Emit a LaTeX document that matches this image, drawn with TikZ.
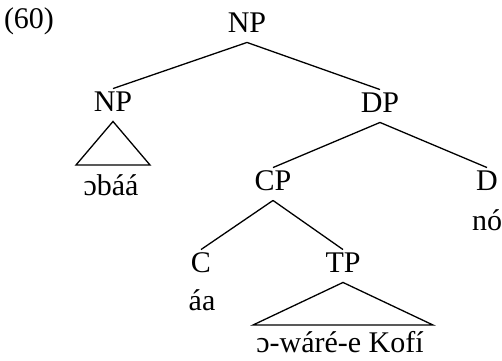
\documentclass[tikz,border=0pt]{standalone}
\usepackage{fontspec}
\setmainfont{Liberation Serif}

\begin{document}
\begin{tikzpicture}[
    x=0.5pt,y=-0.5pt,line width=0.65pt,
    cat/.style={inner xsep=2pt,inner ysep=4.6pt,text height=0.66em,text depth=0pt,font=\fontsize{15}{18}\selectfont},
    word/.style={anchor=base,inner sep=0pt,font=\fontsize{15}{18}\selectfont}
    ]
    \useasboundingbox (0,0) rectangle (502,360);
    \node[word] (ex) at (29,28) {(60)};
    \node[cat] (np) at (247,26) {NP};
    \node[cat] (npl) at (113,105) {NP};
    \node[cat] (dp) at (380,106) {DP};
    \node[cat] (cp) at (273,184) {CP};
    \node[cat] (d) at (487,184) {D};
    \node[cat] (c) at (201,266) {C};
    \node[cat] (tp) at (343,266) {TP};
    \node[word] (obaa) at (111,195) {ɔbáá};
    \node[word] (no) at (487,230) {nó};
    \node[word] (aa) at (202,310) {áa};
    \node[word] (kofi) at (340,352) {ɔ-wáré-e Kofí};
    \coordinate (npl-l) at (76,165);
    \coordinate (npl-r) at (150,165);
    \coordinate (tp-l) at (253,325);
    \coordinate (tp-r) at (433,325);
    \draw (np.south) -- (npl.north);
    \draw (np.south) -- (dp.north);
    \draw (dp.south) -- (cp.north);
    \draw (dp.south) -- (d.north);
    \draw (cp.south) -- (c.north);
    \draw (cp.south) -- (tp.north);
    \draw (npl.south) -- (npl-l) -- (npl-r) -- cycle;
    \draw (tp.south) -- (tp-l) -- (tp-r) -- cycle;
\end{tikzpicture}
\end{document}
